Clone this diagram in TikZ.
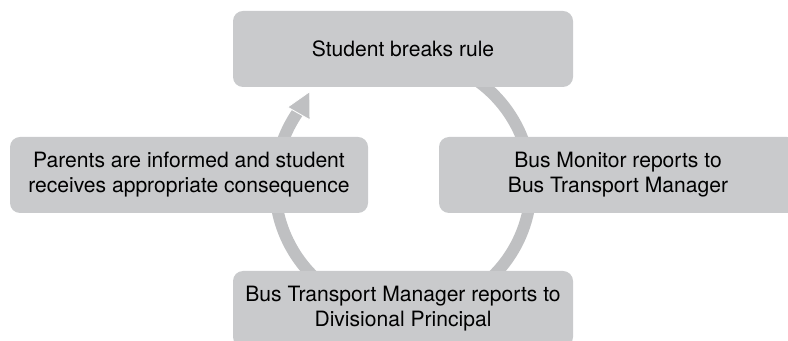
\documentclass[tikz,border=0pt]{standalone}
\usepackage{fontspec}
\setmainfont{TeX Gyre Heros}
\usetikzlibrary{calc}
\definecolor{boxgray}{RGB}{201,202,204}
\definecolor{ringgray}{RGB}{191,192,194}
\tikzset{stepbox/.style={fill=boxgray,rounded corners=0.25cm,minimum width=8.5cm,minimum height=1.9cm,
	align=center,inner sep=0pt,font=\fontsize{15}{17.8}\selectfont}}

\begin{document}
\begin{tikzpicture}
	\useasboundingbox (0,0) rectangle (19.7,8.525);
	\coordinate (c) at (10.075,3.9);
	% ring with its arrow head
	\draw[ringgray,line width=0.3cm] ($(c)+(120:3.2)$) arc[start angle=120,end angle=-215,radius=3.2];
	\fill[ringgray,draw=white,line width=0.6pt] ($(c)+(145:2.84)$)--($(c)+(146:3.48)$)--($(c)+(135:3.3)$)--cycle;
	% steps
	\node[stepbox] (rule) at (10.075,7.3) {Student breaks rule};
	\node[stepbox,minimum width=8.95cm] (monitor) at (15.45,4.15) {Bus Monitor reports to\\Bus Transport Manager};
	\node[stepbox] (manager) at (10.075,0.8) {Bus Transport Manager reports to\\Divisional Principal};
	\node[stepbox,minimum width=8.95cm] (parents) at (4.725,4.15) {Parents are informed and student\\receives appropriate consequence};
\end{tikzpicture}
\end{document}
